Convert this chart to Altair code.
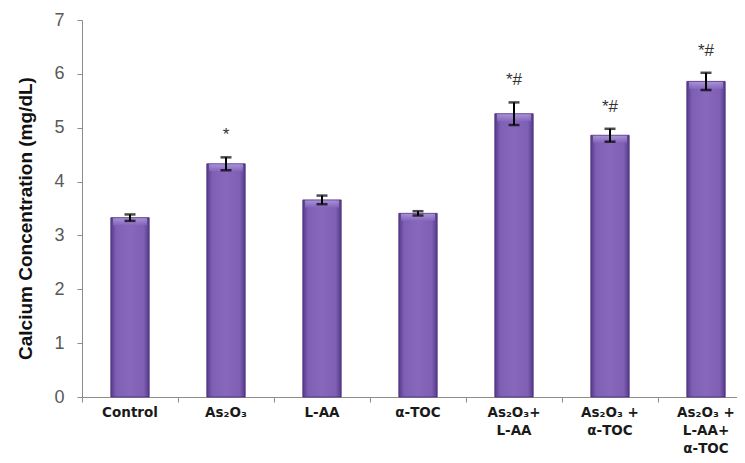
import altair as alt
import pandas as pd

categories = ["Control", "As₂O₃", "L-AA", "α-TOC", "As₂O₃+\nL-AA", "As₂O₃ +\nα-TOC", "As₂O₃ +\nL-AA+\nα-TOC"]
means = [3.33, 4.33, 3.66, 3.41, 5.26, 4.86, 5.86]
errors = [0.06, 0.12, 0.08, 0.04, 0.21, 0.12, 0.16]
marks = ["", "*", "", "", "*#", "*#", "*#"]

df = pd.DataFrame({"cat": categories, "mean": means, "err": errors, "mark": marks})
df["lo"] = df["mean"] - df["err"]
df["hi"] = df["mean"] + df["err"]

FONT = "Liberation Sans"
LFONT = "DejaVu Sans"

x_enc = alt.X(
    "cat:N",
    sort=categories,
    scale=alt.Scale(paddingInner=0, paddingOuter=0, range=[0, 672]),
    axis=alt.Axis(
        title=None,
        labelAngle=0,
        labelFont=LFONT,
        labelFontWeight="bold",
        labelFontSize=13.5,
        labelColor="#1a1a1a",
        labelLineHeight=18,
        labelExpr="split(datum.label, '\\n')",
        bandPosition=0,
        labelPadding=3,
        tickSize=5,
        tickColor="#8c8c8c",
        domainColor="#8c8c8c",
        labelOverlap=False,
    ),
)

y_scale = alt.Scale(domain=[0, 7], nice=False)
y_axis = alt.Axis(
    title="Calcium Concentration (mg/dL)",
    titleFont=FONT,
    titleFontWeight="bold",
    titleFontSize=19,
    titleColor="#111111",
    titleX=-47,
    titleY=198,
    values=[0, 1, 2, 3, 4, 5, 6, 7],
    format="d",
    labelFont=FONT,
    labelFontSize=18,
    labelColor="#595959",
    labelPadding=13,
    tickSize=5,
    tickColor="#8c8c8c",
    domainColor="#8c8c8c",
    grid=False,
)

base = alt.Chart(df)

bars = base.mark_bar(
    width=alt.RelativeBandSize(0.4),
    color=alt.Gradient(
        gradient="linear", x1=0, x2=1, y1=0, y2=0,
        stops=[
            alt.GradientStop(color="#56398a", offset=0),
            alt.GradientStop(color="#7f5fb4", offset=0.14),
            alt.GradientStop(color="#8768bd", offset=0.5),
            alt.GradientStop(color="#7f5fb4", offset=0.86),
            alt.GradientStop(color="#56398a", offset=1),
        ],
    ),
    stroke="#4a2f78",
    strokeWidth=0.8,
).encode(x=x_enc, y=alt.Y("mean:Q", scale=y_scale, axis=y_axis))

highlight = base.mark_tick(
    size=34, thickness=7, yOffset=4,
    color=alt.Gradient(
        gradient="linear", x1=0, x2=0, y1=0, y2=1,
        stops=[
            alt.GradientStop(color="#b9a6e4", offset=0),
            alt.GradientStop(color="#8768bd", offset=1),
        ],
    ),
).encode(x=alt.X("cat:N", sort=categories), y=alt.Y("mean:Q"))

rule = base.mark_rule(color="#000000", strokeWidth=2).encode(
    x=alt.X("cat:N", sort=categories), y="lo:Q", y2="hi:Q"
)
cap_hi = base.mark_tick(color="#000000", size=11, thickness=2.5).encode(
    x=alt.X("cat:N", sort=categories), y="hi:Q"
)
cap_lo = base.mark_tick(color="#000000", size=11, thickness=2.5).encode(
    x=alt.X("cat:N", sort=categories), y="lo:Q"
)

labels = base.mark_text(
    font=FONT, fontSize=17, color="#333333", baseline="middle", dy=-22
).encode(x=alt.X("cat:N", sort=categories), y="hi:Q", text="mark:N")

chart = (
    alt.layer(bars, highlight, rule, cap_hi, cap_lo, labels)
    .properties(
        width=655,
        height=377,
        autosize=alt.AutoSizeParams(type="none"),
        padding={"left": 74, "top": 12, "right": 0, "bottom": 58},
        background="white",
    )
    .configure_view(stroke=None)
)

chart.save("out.html", embed_options={"renderer": "svg", "actions": False})
